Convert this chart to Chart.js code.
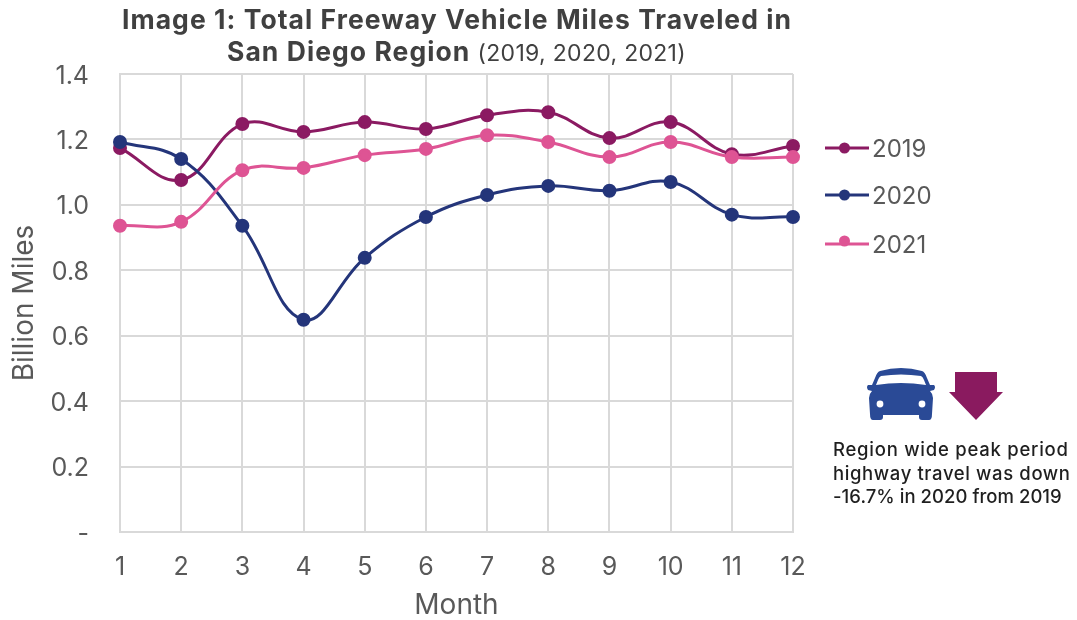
<!DOCTYPE html>
<html><head><meta charset="utf-8">
<script src="https://cdn.jsdelivr.net/npm/chart.js@4"></script>
<style>
html,body{margin:0;padding:0;background:#fff;width:1077px;height:620px;overflow:hidden}
#wrap{position:relative;width:1077px;height:620px;font-family:Inter,sans-serif}
canvas{position:absolute;left:0;top:0}
.t{position:absolute;white-space:nowrap;line-height:1}
</style></head><body>
<div id="wrap">
<canvas id="c" width="1077" height="620"></canvas>
<div class="t" style="left:0;width:914px;top:6px;text-align:center;font-size:26.5px;font-weight:700;color:#404040;letter-spacing:1.05px">Image 1: Total Freeway Vehicle Miles Traveled in</div>
<div class="t" style="left:0;width:913px;top:38px;text-align:center;font-size:26.5px;font-weight:700;color:#404040;letter-spacing:1.05px">San Diego Region <span style="font-weight:400;font-size:23px;letter-spacing:.3px">(2019, 2020, 2021)</span></div>
<svg style="position:absolute;left:0;top:0" width="1077" height="620">
<path fill="#2A4A96" d="M880 371 Q901 365 922 371 Q925 372 927 378 L930 385 L934 385 Q936 387 934 390 L930 391 Q933 394 933 398 L932 414 Q932 420 929 420 L922 420 Q919 420 919 417 L919 415 L883 415 L883 417 Q883 420 880 420 L873 420 Q870 420 870 414 L869 398 Q869 394 872 391 L868 390 Q866 387 868 385 L872 385 L875 378 Q877 372 880 371Z M881 376 Q879 377 878 380 L876 385 Q901 381 926 385 L924 380 Q923 377 921 376 Q901 373 881 376Z" fill-rule="evenodd"/>
<circle cx="880" cy="404" r="3.4" fill="#fff"/><circle cx="922" cy="404" r="3.4" fill="#fff"/>
<path fill="#8A1A5F" d="M955 372H997V392H1003L976 420L949 392H955Z"/>
</svg>
<div class="t" style="left:833px;top:438px;font-size:18.5px;font-weight:500;color:#1f1f1f;line-height:23.5px"><span style="letter-spacing:.75px">Region wide peak period</span><br><span style="letter-spacing:.62px">highway travel was down</span><br><span style="letter-spacing:.04px">-16.7% in 2020 from 2019</span></div>
</div>
<script>
const months = ['1','2','3','4','5','6','7','8','9','10','11','12'];
const values2019 = [1.174,1.076,1.247,1.223,1.253,1.232,1.274,1.283,1.204,1.253,1.155,1.18];
const values2020 = [1.192,1.14,0.936,0.649,0.838,0.963,1.03,1.058,1.043,1.07,0.97,0.963];
const values2021 = [0.936,0.948,1.106,1.113,1.152,1.171,1.213,1.192,1.146,1.192,1.146,1.146];
const seriesNames = ['2019','2020','2021'];
const seriesColors = ['#8B1A62','#24357A','#DE5494'];
const axisFont = '"Inter",sans-serif';
const grey = '#595959';
const mk = (i,d) => ({label:seriesNames[i],data:d,borderColor:seriesColors[i],backgroundColor:seriesColors[i],
  borderWidth:3,pointRadius:5.5,pointHoverRadius:5.5,tension:0.4,clip:false,order:3-i});
const legendPlugin = {id:'sideLegend',afterDraw(chart){
  const ctx=chart.ctx;
  chart.data.datasets.forEach((ds,i)=>{
    const y=148+48*i-(i==1?1:0);
    ctx.save();
    ctx.strokeStyle=ds.borderColor;ctx.fillStyle=ds.borderColor;ctx.lineWidth=3;
    ctx.beginPath();ctx.moveTo(825,y);ctx.lineTo(869,y);ctx.stroke();
    ctx.beginPath();ctx.arc(844.5,i==2?y-3:y,5.5,0,Math.PI*2);ctx.fill();
    ctx.fillStyle=grey;ctx.font='24px '+axisFont;ctx.textBaseline='middle';ctx.textAlign='left';
    ctx.fillText(ds.label,872,y+2);
    ctx.restore();
  });
}};
new Chart(document.getElementById('c'),{
  type:'line',
  data:{labels:months,datasets:[mk(0,values2019),mk(1,values2020),mk(2,values2021)]},
  plugins:[legendPlugin],
  options:{
    responsive:false,animation:false,
    layout:{padding:{left:0,top:74,right:284,bottom:0}},
    plugins:{legend:{display:false},tooltip:{enabled:false},title:{display:false}},
    scales:{
      x:{grid:{color:'#D9D9D9',lineWidth:2,tickLength:0,drawTicks:false},border:{color:'#D9D9D9',width:2},
         ticks:{color:grey,font:{family:axisFont,size:25},padding:20,maxRotation:0,autoSkip:false},
         title:{display:true,text:'Month',color:grey,font:{family:axisFont,size:28,lineHeight:1.05},padding:{top:0,bottom:0}},
         afterFit(s){s.height=88}},
      y:{min:0,max:1.4,grid:{color:'#D9D9D9',lineWidth:2,drawTicks:false},border:{color:'#D9D9D9',width:2},
         ticks:{stepSize:0.2,color:grey,font:{family:axisFont,size:25},padding:31,labelOffset:2,
           callback:v=>Math.abs(v)<1e-9?'-':v.toFixed(1)},
         title:{display:true,text:'Billion Miles',color:grey,font:{family:axisFont,size:28},padding:{top:8,bottom:0}},
         afterFit(s){s.width=120}}
    }
  }
});
</script></body></html>
